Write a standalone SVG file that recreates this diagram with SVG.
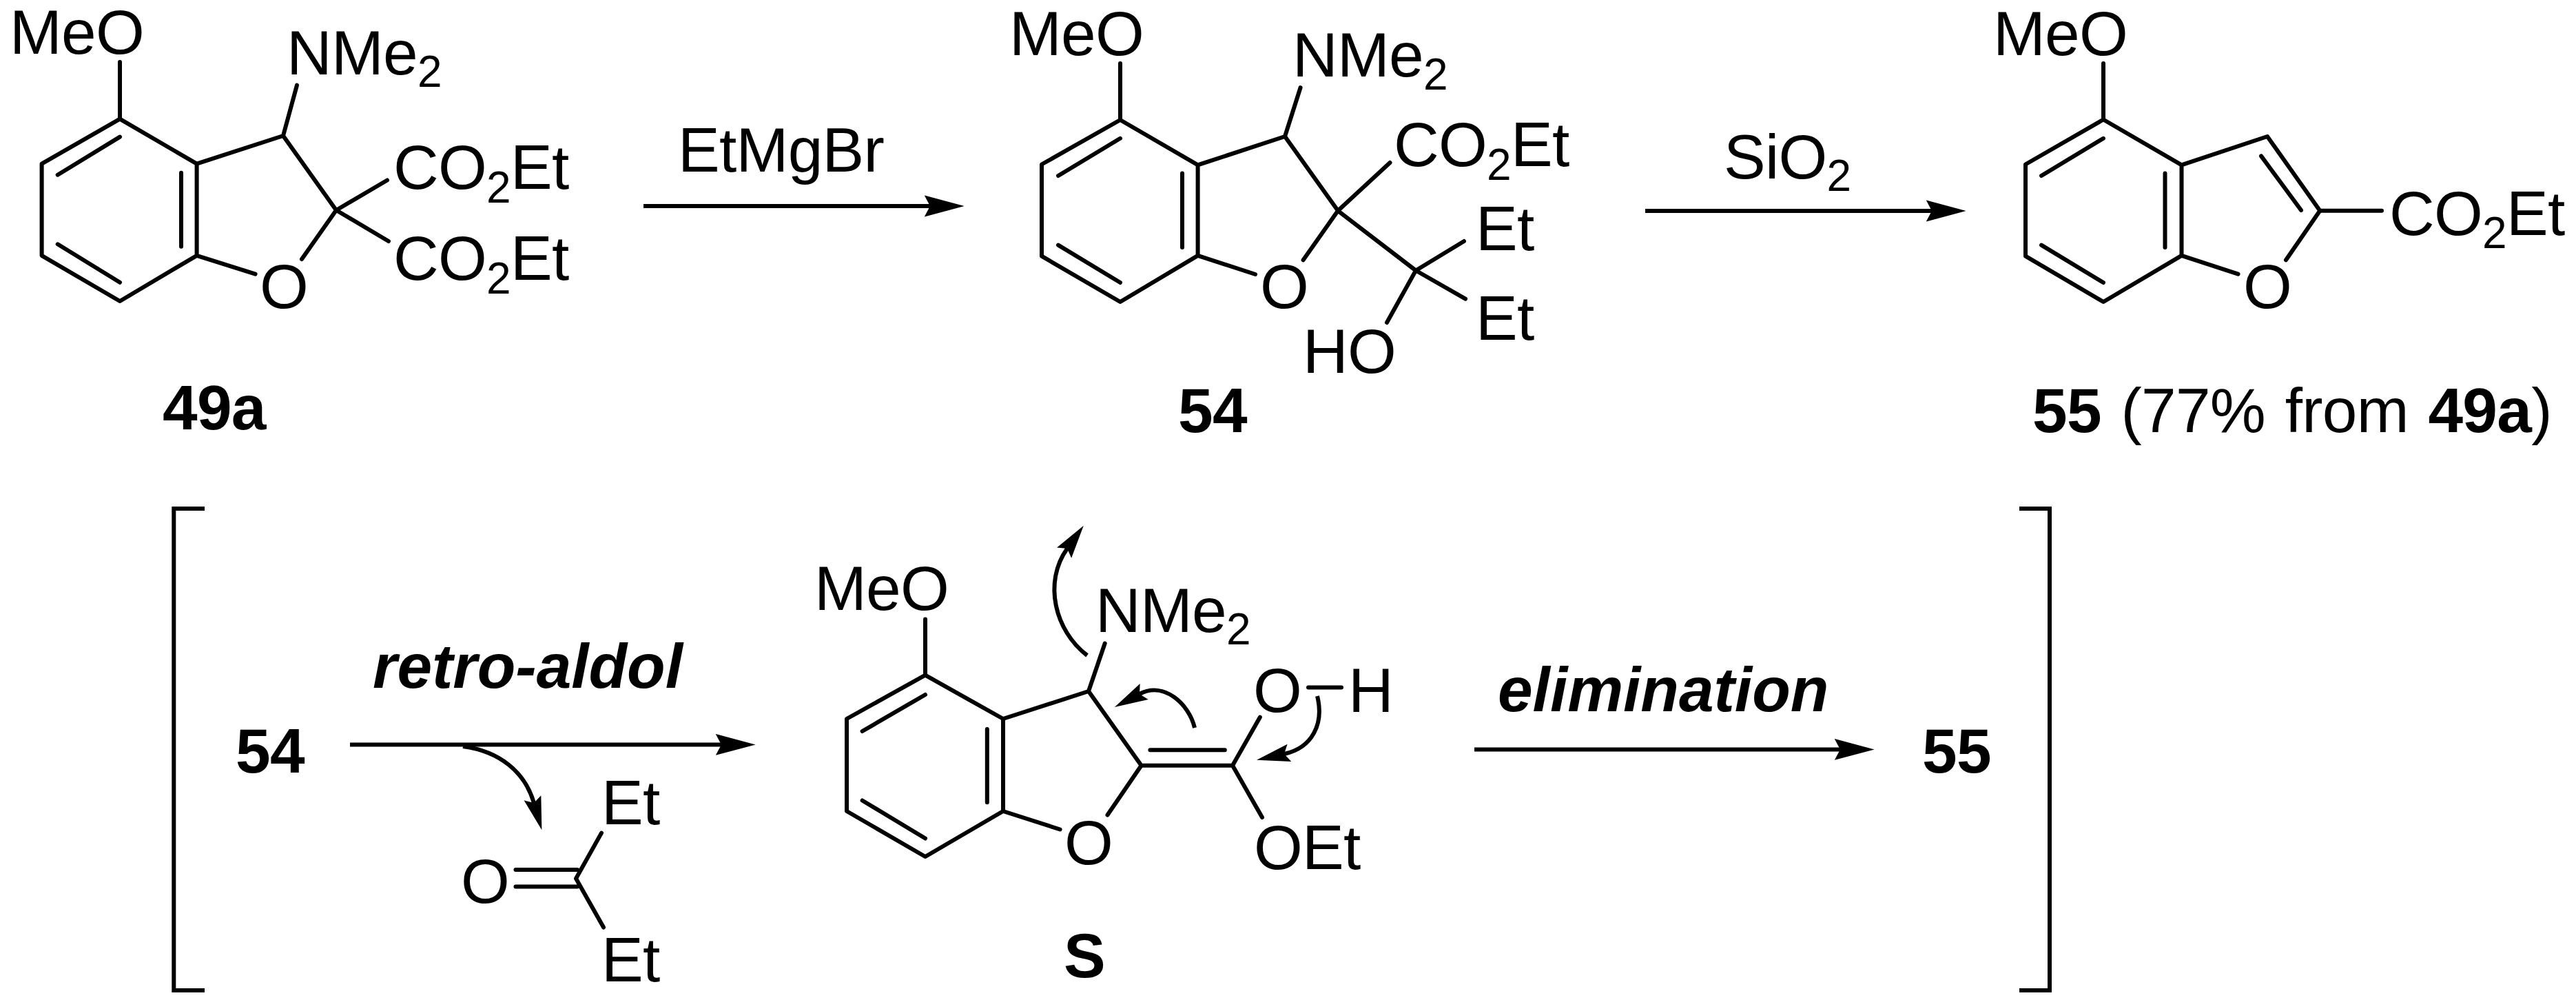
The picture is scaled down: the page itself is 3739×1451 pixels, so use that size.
<svg xmlns="http://www.w3.org/2000/svg" width="3739" height="1451" viewBox="0 0 3739 1451">
<style>
text{font-family:"Liberation Sans",Arial,sans-serif;font-size:91px;letter-spacing:-0.7px;fill:#000}
.b{font-weight:700}
.i{font-weight:700;font-style:italic;letter-spacing:0}
.w{word-spacing:4px}
.bond{fill:none;stroke:#000;stroke-width:6;stroke-linecap:round;stroke-linejoin:round}
.br{fill:none;stroke:#000;stroke-width:6;stroke-linejoin:miter}
.arr{fill:none;stroke:#000;stroke-width:6;marker-end:url(#head)}
.curl{fill:none;stroke:#000;stroke-width:6;marker-end:url(#curlhead)}
.s{font-size:64px}
</style>
<defs>
<marker id="head" markerUnits="userSpaceOnUse" markerWidth="60" markerHeight="34" viewBox="0 -16 58 32" refX="8" refY="0" orient="auto"><path d="M0,-15L56,0L0,15L8,0Z" fill="#000"/></marker>
<marker id="curlhead" markerUnits="userSpaceOnUse" markerWidth="50" markerHeight="28" viewBox="0 -13 46 26" refX="7" refY="0" orient="auto"><path d="M0,-12L45,0L0,12L7,0Z" fill="#000"/></marker>
</defs>
<rect width="3739" height="1451" fill="#fff"/>
<g id="mol-49a">
<path class="bond" d="M174,90V172.6L60.6,237.6V370.8L174,437L285.6,370.8V237.6L174,172.6M285.6,237.6L411,197L488,305L438,376M285.6,370.8L370.6,397.7M411,197L431,123.6M488,305L562,261.5M488,305L564,350M174,198.6L83.7,253.7M263,250.7V357.8M83.7,354.3L174,409.8"/>
<text x="14" y="78">MeO</text>
<text x="416" y="108">NMe<tspan class="s" dy="18">2</tspan></text>
<text x="571" y="274">CO<tspan class="s" dy="20">2</tspan><tspan dy="-20">Et</tspan></text>
<text x="571" y="406">CO<tspan class="s" dy="20">2</tspan><tspan dy="-20">Et</tspan></text>
<text x="412" y="447" text-anchor="middle">O</text>
<text class="b" x="236" y="623">49a</text>
</g>
<g id="mol-54">
<path class="bond" d="M1626,92V174L1512,238.5V371.7L1626,438L1738.6,370.8V239.4L1626,174M1738.6,239.4L1865,198L1942,305.8L1891.6,377.3M1738.6,370.8L1822,398M1865,198L1887.6,127M1942,305.8L2017.5,236M1942,305.8L2055,392.5L2125,350M2055,392.5L2127,433.7M2055,392.5L2013,468M1626,200.8L1536,255M1716,251.5V359M1536,355.6L1626,410"/>
<text x="1465" y="80">MeO</text>
<text x="1876" y="111">NMe<tspan class="s" dy="19">2</tspan></text>
<text x="2023" y="241">CO<tspan class="s" dy="20">2</tspan><tspan dy="-20">Et</tspan></text>
<text x="2142" y="363">Et</text>
<text x="2142" y="493">Et</text>
<text x="1891" y="541">HO</text>
<text x="1864" y="447" text-anchor="middle">O</text>
<text class="b" x="1710" y="627">54</text>
</g>
<g id="mol-55">
<path class="bond" d="M3053,92V173.5L2940,238.5V371.7L3053,438L3166.5,370.8V239.4L3053,173.5M3166.5,239.4L3291,198L3367.3,305.8L3318,377.3M3166.5,370.8L3248.5,397.7M3367.3,305.8H3457M3053,200.8L2963,255M3142.5,251.5V359M2963,355.6L3053,410M3282,226.4L3340,305"/>
<text x="2893" y="80">MeO</text>
<text x="3468" y="341">CO<tspan class="s" dy="19">2</tspan><tspan dy="-19">Et</tspan></text>
<text x="3291" y="447" text-anchor="middle">O</text>
<text class="w" x="2950" y="627"><tspan class="b">55</tspan> (77% from <tspan class="b">49a</tspan>)</text>
</g>
<g id="reagent-etmgbr"><text x="984" y="249">EtMgBr</text></g>
<g id="reagent-sio2"><text x="2502" y="259">SiO<tspan class="s" dy="18">2</tspan></text></g>
<g id="label-retro-aldol"><text class="i" x="541" y="998">retro-aldol</text></g>
<g id="label-elimination"><text class="i" x="2174" y="1032">elimination</text></g>
<g id="label-54"><text class="b" x="342" y="1121">54</text></g>
<g id="label-55"><text class="b" x="2790" y="1121">55</text></g>
<g id="ketone">
<path class="bond" d="M748.5,1262H838M748.5,1286.4H838M873,1208.6L836,1274.8L876,1345.6"/>
<text x="704" y="1310" text-anchor="middle">O</text>
<text x="873" y="1196">Et</text>
<text x="873" y="1424">Et</text>
</g>
<g id="mol-S">
<path class="bond" d="M1343,898.6V979.7L1229,1043V1177L1343,1243L1456,1177V1043L1343,979.7M1456,1043L1580,1003L1656.6,1110.7L1607.5,1182.5M1456,1177L1538.6,1203.5M1580,1003L1603.7,933.5M1656.6,1110.7H1789L1828.8,1040.7M1789,1110.7L1832,1186M1669.4,1088.3H1777.8M1343,1008L1251.6,1061M1432.8,1058V1164.3M1251.6,1161.5L1343,1216.5M1899,997.4H1947"/>
<text x="1182" y="885">MeO</text>
<text x="1590" y="917">NMe<tspan class="s" dy="18">2</tspan></text>
<text x="1854" y="1033" text-anchor="middle">O</text>
<text x="1957" y="1033">H</text>
<text x="1820" y="1261">OEt</text>
<text x="1580" y="1254" text-anchor="middle">O</text>
<text class="b" x="1544" y="1418">S</text>
</g>
<g id="brackets">
<path class="br" d="M297,738H252.3V1437H297"/>
<path class="br" d="M2931,738H2975V1437H2931"/>
</g>
<g id="connectors">
<line class="arr" x1="934" y1="299" x2="1350" y2="299"/>
<line class="arr" x1="2388" y1="306" x2="2804" y2="306"/>
<line class="arr" x1="508" y1="1080.4" x2="1047" y2="1080.4"/>
<line class="arr" x1="2140" y1="1087.4" x2="2671" y2="1087.4"/>
<path class="curl" d="M672,1083C725,1090 762,1120 775,1165"/>
<path class="curl" d="M1578,951C1531,915 1514,845 1549,796"/>
<path class="curl" d="M1734,1056C1726,1022 1690,988 1654,1007"/>
<path class="curl" d="M1912,1010C1922,1050 1905,1085 1864,1094"/>
</g>
</svg>
